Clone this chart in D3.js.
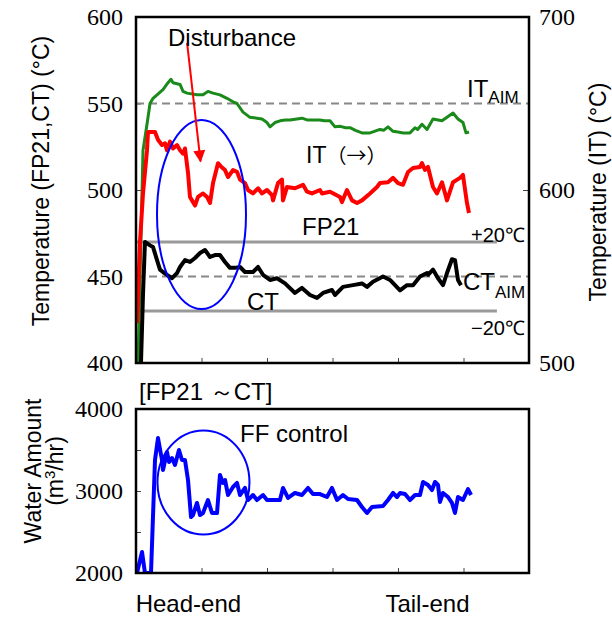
<!DOCTYPE html>
<html>
<head>
<meta charset="utf-8">
<script src="https://cdn.jsdelivr.net/npm/d3@7"></script>
<style>
  body { margin: 0; background: #fff; }
  svg { display: block; }
  .sans { font-family: "Liberation Sans", Arial, sans-serif; }
  .serif { font-family: "Liberation Serif", "Times New Roman", serif; }
  .cjk { font-family: "Noto Sans CJK JP", sans-serif; }
</style>
</head>
<body>
<div id="chart"></div>
<script>
// strip position runs 0..6 (tick units), Head-end on the left
const itData = [[0.031,500],[0.107,623],[0.168,638],[0.214,650],[0.260,653],[0.321,655],[0.412,658],[0.489,662],[0.534,664],[0.565,662],[0.672,661],[0.718,657],[0.779,656],[0.931,655],[1.023,655],[1.099,657],[1.176,656],[1.282,655],[1.389,653],[1.481,651],[1.542,650],[1.634,645],[1.740,642],[1.847,641.5],[1.924,641],[2.000,639],[2.046,636.5],[2.122,639],[2.2,640],[2.28,640.5],[2.351,640.5],[2.534,641.5],[2.611,640.5],[2.702,640.5],[2.8,640.5],[2.88,640],[2.962,640],[3.038,636.5],[3.12,636.8],[3.2,636],[3.267,636],[3.35,634.5],[3.450,633],[3.573,633],[3.65,634],[3.725,635],[3.78,634.5],[3.847,636.5],[3.92,634],[4.000,633.5],[4.08,633],[4.183,633],[4.26,636],[4.3,635],[4.366,638],[4.443,635],[4.534,641],[4.672,640],[4.840,644.5],[4.916,641],[4.992,639],[5.038,633],[5.084,633.5]];

const fp21Data = [[0.015,423],[0.061,470],[0.107,498],[0.168,523],[0.183,533.5],[0.290,533.5],[0.336,529],[0.397,526],[0.443,527],[0.473,523],[0.519,528],[0.565,524],[0.626,526],[0.672,523],[0.718,521],[0.748,524],[0.794,510],[0.824,496],[0.855,494],[0.901,491],[0.947,496],[1.023,498],[1.084,496],[1.130,492.5],[1.176,504],[1.252,515.5],[1.313,513],[1.359,511.5],[1.405,507.5],[1.481,511.5],[1.542,510.5],[1.588,506],[1.664,504],[1.710,500],[1.786,498],[1.863,501],[1.924,498],[2.000,500],[2.076,497],[2.092,494],[2.168,504],[2.229,506],[2.244,494],[2.305,501.7],[2.427,501],[2.550,503],[2.611,499],[2.687,498],[2.809,500],[2.840,498],[2.962,499],[3.115,496],[3.145,493],[3.221,500],[3.298,494],[3.374,492.5],[3.450,494],[3.573,498],[3.679,501.7],[3.725,504],[3.847,504.5],[3.924,507],[4.000,504],[4.076,503],[4.153,510.4],[4.229,512.7],[4.336,513.3],[4.366,515.6],[4.412,511.6],[4.458,513.3],[4.534,501.7],[4.595,498],[4.672,504.5],[4.748,494],[4.840,504.5],[4.947,507],[4.992,508.7],[5.053,492.5],[5.084,486.7]];

const ctData = [[0.076,400],[0.107,440],[0.137,470],[0.214,468],[0.260,467],[0.321,459.5],[0.366,454],[0.412,452.6],[0.473,451],[0.550,449],[0.626,452],[0.672,455.5],[0.748,459.5],[0.824,458.4],[0.901,460.7],[0.977,463.6],[1.053,465.3],[1.130,461.3],[1.206,462.4],[1.282,462.4],[1.359,458.4],[1.435,455],[1.511,455],[1.588,455.5],[1.664,452.6],[1.786,452.6],[1.863,455.5],[1.939,451],[2.046,448],[2.153,449],[2.275,446],[2.427,440.5],[2.534,443.4],[2.656,439.3],[2.763,437.6],[2.855,440.5],[2.992,442.2],[3.038,439.3],[3.160,444],[3.313,445],[3.450,446],[3.527,444],[3.618,447],[3.771,450],[3.878,448],[4.031,442],[4.137,445],[4.229,445],[4.336,450],[4.443,452],[4.458,451],[4.534,454],[4.611,449],[4.687,445],[4.748,452],[4.824,460],[4.870,459.5],[4.916,448],[4.962,445]];

const waterData = [[0.015,2000],[0.092,2256],[0.137,2000],[0.229,2000],[0.290,3378],[0.336,3646],[0.397,3378],[0.412,3256],[0.473,3476],[0.504,3354],[0.550,3402],[0.595,3317],[0.656,3500],[0.702,3378],[0.748,3378],[0.794,3134],[0.840,2683],[0.870,2707],[0.931,2854],[0.977,2707],[1.023,2732],[1.099,2890],[1.160,2732],[1.237,2732],[1.282,3195],[1.328,3098],[1.359,3134],[1.405,2951],[1.481,3049],[1.542,3098],[1.588,2951],[1.664,3037],[1.710,2890],[1.786,2951],[1.847,2890],[1.939,2951],[2.000,2890],[2.09,2890],[2.198,2890],[2.244,3037],[2.321,2915],[2.427,2976],[2.534,2951],[2.626,3037],[2.702,2963],[2.809,2963],[2.916,2927],[2.992,3037],[3.069,2890],[3.160,2951],[3.237,2902],[3.374,2890],[3.450,2805],[3.527,2732],[3.603,2805],[3.771,2817],[3.847,2890],[3.924,2976],[3.985,2927],[4.031,2976],[4.107,2963],[4.183,2890],[4.260,2951],[4.336,2951],[4.382,3110],[4.458,3073],[4.519,3012],[4.565,3110],[4.611,3073],[4.641,2866],[4.687,2976],[4.763,2927],[4.824,2854],[4.870,2732],[4.916,2927],[4.992,2890],[5.069,3024],[5.115,2951]];

const tempTicks = [400, 450, 500, 550, 600];
const itTicks = [500, 600, 700];
const waterTicks = [2000, 2500, 3000, 3500, 4000];
const xTicks = [1, 2, 3, 4, 5];

const itAim = 650, ctAim = 450, ctBand = [430, 470];
const bandEnd = 5.51;
const endLabels = [["Head-end", 0.8], ["Tail-end", 4.45]];

const svg = d3.select('#chart').append('svg').attr('width', 612).attr('height', 619);

const x = d3.scaleLinear().domain([0, 6]).range([136, 529]);
const yT = d3.scaleLinear().domain([400, 600]).range([363, 17]);
const yIT = d3.scaleLinear().domain([500, 700]).range([363, 17]);
const yW = d3.scaleLinear().domain([2000, 4000]).range([573, 409]);

const defs = svg.append('defs');
defs.append('clipPath').attr('id', 'clipTop').append('rect')
  .attr('x', 136).attr('y', 17).attr('width', 393).attr('height', 346);
defs.append('clipPath').attr('id', 'clipBot').append('rect')
  .attr('x', 136).attr('y', 409).attr('width', 393).attr('height', 164);
defs.append('marker').attr('id', 'head')
  .attr('markerUnits', 'userSpaceOnUse')
  .attr('viewBox', '0 0 12 12').attr('refX', 11).attr('refY', 6)
  .attr('markerWidth', 13).attr('markerHeight', 12).attr('orient', 'auto')
  .append('path').attr('d', 'M0,0L12,6L0,12Z').attr('fill', '#ff0000');

function styleAxis(g, cls, size) {
  g.select('.domain').remove();
  g.selectAll('.tick line').attr('stroke', '#444').attr('stroke-width', 1);
  g.selectAll('text').attr('class', cls).attr('font-size', size).attr('fill', '#000');
}

// ---- top panel ----
const topPanel = svg.append('g');

topPanel.append('g').attr('transform', 'translate(136,0)')
  .call(d3.axisLeft(yT).tickValues(tempTicks).tickSizeInner(-5).tickSizeOuter(0).tickPadding(13))
  .call(g => styleAxis(g, 'serif', 24));

topPanel.append('g').attr('transform', 'translate(529,0)')
  .call(d3.axisRight(yIT).tickValues(itTicks).tickSizeInner(-6).tickSizeOuter(0).tickPadding(10))
  .call(g => styleAxis(g, 'serif', 24));

topPanel.append('g').attr('transform', 'translate(0,363)')
  .call(d3.axisBottom(x).tickValues(xTicks).tickSizeInner(-5).tickSizeOuter(0).tickFormat(''))
  .call(g => styleAxis(g, 'serif', 24));

const plotTop = topPanel.append('g').attr('clip-path', 'url(#clipTop)');

plotTop.append('line')
  .attr('x1', x(0)).attr('x2', x(6)).attr('y1', yIT(itAim)).attr('y2', yIT(itAim))
  .attr('stroke', '#888').attr('stroke-width', 2).attr('stroke-dasharray', '8,5');
plotTop.append('line')
  .attr('x1', x(0)).attr('x2', x(6)).attr('y1', yT(ctAim)).attr('y2', yT(ctAim))
  .attr('stroke', '#888').attr('stroke-width', 2).attr('stroke-dasharray', '8,5');
plotTop.selectAll('.band').data(ctBand).enter().append('line')
  .attr('x1', x(0)).attr('x2', x(bandEnd)).attr('y1', d => yT(d)).attr('y2', d => yT(d))
  .attr('stroke', '#999').attr('stroke-width', 3);

const lineT = d3.line().x(d => x(d[0])).y(d => yT(d[1]));
const lineIT = d3.line().x(d => x(d[0])).y(d => yIT(d[1]));

plotTop.append('path').datum(itData).attr('d', lineIT)
  .attr('fill', 'none').attr('stroke', '#1a8a1a').attr('stroke-width', 3).attr('stroke-linejoin', 'round');
plotTop.append('path').datum(fp21Data).attr('d', lineT)
  .attr('fill', 'none').attr('stroke', '#ff0000').attr('stroke-width', 4).attr('stroke-linejoin', 'round');
plotTop.append('path').datum(ctData).attr('d', lineT)
  .attr('fill', 'none').attr('stroke', '#000').attr('stroke-width', 4).attr('stroke-linejoin', 'round');

// disturbance ellipse + arrow
topPanel.append('ellipse')
  .attr('cx', x(1.0)).attr('cy', yT(485.8)).attr('rx', 44.5).attr('ry', 94.5)
  .attr('fill', 'none').attr('stroke', '#0000ff').attr('stroke-width', 2);
topPanel.append('line')
  .attr('x1', x(0.78)).attr('y1', yT(585)).attr('x2', x(0.985)).attr('y2', yT(516.5))
  .attr('stroke', '#ff0000').attr('stroke-width', 2).attr('marker-end', 'url(#head)');

topPanel.append('rect').attr('x', 136).attr('y', 17).attr('width', 393).attr('height', 346)
  .attr('fill', 'none').attr('stroke', '#000').attr('stroke-width', 2.5);

// labels
function label(t, x0, y0, size, anchor) {
  return svg.append('text').attr('class', 'sans').attr('x', x0).attr('y', y0)
    .attr('font-size', size).attr('text-anchor', anchor || 'start').attr('fill', '#000').text(t);
}
label('Disturbance', 168, 46, 24);
const itLbl = label('IT', 306, 163, 23);
itLbl.append('tspan').attr('class', 'cjk').attr('font-size', 20).text('（→）');
label('FP21', 302, 235, 24);
label('CT', 247, 310, 24);
label('+20℃', 471, 242, 20);
label('−20℃', 471, 335, 20);

const itAimT = svg.append('text').attr('class', 'sans').attr('x', 467).attr('y', 97).attr('font-size', 24);
itAimT.append('tspan').text('IT');
itAimT.append('tspan').attr('font-size', 17).attr('dy', 6).text('AIM');
const ctAimT = svg.append('text').attr('class', 'sans').attr('x', 463).attr('y', 290).attr('font-size', 24);
ctAimT.append('tspan').text('CT');
ctAimT.append('tspan').attr('font-size', 17).attr('dy', 8).text('AIM');

svg.append('text').attr('class', 'sans').attr('font-size', 23).attr('text-anchor', 'middle')
  .attr('transform', 'translate(49,181) rotate(-90)').text('Temperature (FP21,CT)  (°C)');
svg.append('text').attr('class', 'sans').attr('font-size', 23).attr('text-anchor', 'middle')
  .attr('transform', 'translate(606,192) rotate(-90)').text('Temperature (IT) (°C)');

// ---- bottom panel ----
const botPanel = svg.append('g');

botPanel.append('g').attr('transform', 'translate(136,0)')
  .call(d3.axisLeft(yW).tickValues(waterTicks).tickSizeInner(-5).tickSizeOuter(0).tickPadding(13)
    .tickFormat(d => d % 1000 === 0 ? d : ''))
  .call(g => styleAxis(g, 'serif', 24));

botPanel.append('g').attr('transform', 'translate(0,573)')
  .call(d3.axisBottom(x).tickValues(xTicks).tickSizeInner(-5).tickSizeOuter(0).tickFormat(''))
  .call(g => styleAxis(g, 'serif', 24));

botPanel.append('g').attr('clip-path', 'url(#clipBot)')
  .append('path').datum(waterData)
  .attr('d', d3.line().x(d => x(d[0])).y(d => yW(d[1])))
  .attr('fill', 'none').attr('stroke', '#0000ff').attr('stroke-width', 4).attr('stroke-linejoin', 'round');

botPanel.append('ellipse')
  .attr('cx', x(1.03)).attr('cy', yW(3104)).attr('rx', 46).attr('ry', 52)
  .attr('fill', 'none').attr('stroke', '#0000ff').attr('stroke-width', 2);

botPanel.append('rect').attr('x', 136).attr('y', 409).attr('width', 393).attr('height', 164)
  .attr('fill', 'none').attr('stroke', '#000').attr('stroke-width', 2.5);

label('[FP21 ～CT]', 139, 400, 24);
label('FF control', 240, 442, 24);
endLabels.forEach(d => label(d[0], x(d[1]), 612, 24, 'middle'));

const wTitle = svg.append('text').attr('class', 'sans').attr('font-size', 23).attr('text-anchor', 'middle')
  .attr('transform', 'translate(41,471) rotate(-90)');
wTitle.append('tspan').attr('x', 0).attr('dy', 0).text('Water Amount');
wTitle.append('tspan').attr('x', 0).attr('dy', 22).text('(m');
wTitle.append('tspan').attr('font-size', 15).attr('dy', -8).text('3');
wTitle.append('tspan').attr('dy', 8).text('/hr)');
</script>
</body>
</html>
